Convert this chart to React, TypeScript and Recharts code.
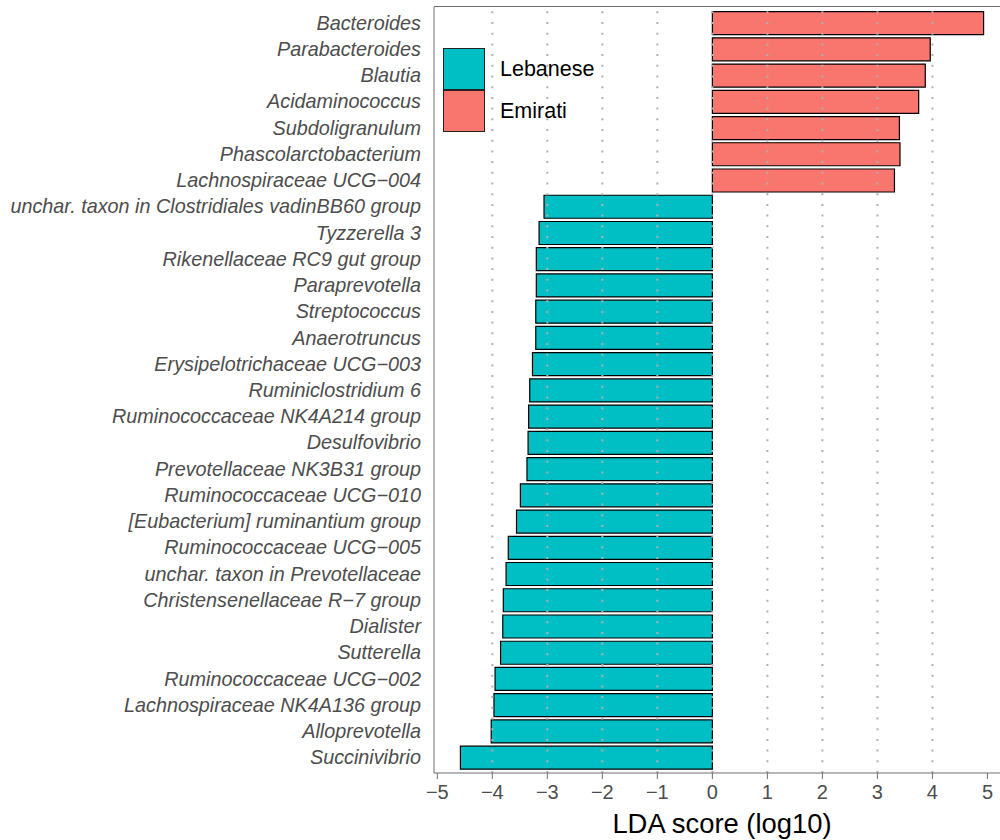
import { BarChart, Bar, XAxis, YAxis, Cell, ReferenceLine, Label } from "recharts";

// taxa ordered top -> bottom as they appear on the plot
const taxa = [
  "Bacteroides",
  "Parabacteroides",
  "Blautia",
  "Acidaminococcus",
  "Subdoligranulum",
  "Phascolarctobacterium",
  "Lachnospiraceae UCG\u2212004",
  "unchar. taxon in Clostridiales vadinBB60 group",
  "Tyzzerella 3",
  "Rikenellaceae RC9 gut group",
  "Paraprevotella",
  "Streptococcus",
  "Anaerotruncus",
  "Erysipelotrichaceae UCG\u2212003",
  "Ruminiclostridium 6",
  "Ruminococcaceae NK4A214 group",
  "Desulfovibrio",
  "Prevotellaceae NK3B31 group",
  "Ruminococcaceae UCG\u2212010",
  "[Eubacterium] ruminantium group",
  "Ruminococcaceae UCG\u2212005",
  "unchar. taxon in Prevotellaceae",
  "Christensenellaceae R\u22127 group",
  "Dialister",
  "Sutterella",
  "Ruminococcaceae UCG\u2212002",
  "Lachnospiraceae NK4A136 group",
  "Alloprevotella",
  "Succinivibrio",
];

// LDA score (log10), negative = enriched in Lebanese, positive = Emirati
const lda = [
  4.93, 3.96, 3.87, 3.75, 3.4, 3.41, 3.31,
  -3.06, -3.15, -3.2, -3.2, -3.21, -3.21, -3.27, -3.32, -3.34, -3.35, -3.37,
  -3.49, -3.56, -3.71, -3.75, -3.8, -3.81, -3.85, -3.95, -3.97, -4.02, -4.58,
];

const xTicks = [-5, -4, -3, -2, -1, 0, 1, 2, 3, 4, 5];
const gridAt = [-4, -3, -2, -1, 0, 1, 2, 3, 4];

const groups = ["Lebanese", "Emirati"];
const groupColors = ["#00BFC4", "#F8766D"];

const data = taxa.map((name, i) => ({ name, value: lda[i] }));

const FONT = "'Liberation Sans', Arial, Helvetica, sans-serif";
const AXIS_GREY = "#6e6e6e";

const fmt = (v: number) => (v < 0 ? "\u2212" + Math.abs(v) : String(v));

export default function App() {
  return (
    <div
      style={{
        position: "absolute",
        left: 0,
        top: 0,
        width: 1000,
        height: 840,
        overflow: "hidden",
        background: "#fff",
        fontFamily: FONT,
      }}
    >
      <BarChart
        width={1010}
        height={840}
        data={data}
        layout="vertical"
        margin={{ top: 7, right: 0, bottom: 0, left: 0 }}
      >
        <XAxis
          type="number"
          domain={[-5.06, 5.41]}
          ticks={xTicks}
          tickFormatter={fmt}
          allowDataOverflow
          height={67}
          stroke={AXIS_GREY}
          tickSize={6}
          tickMargin={6}
          tick={{ fill: "#4d4d4d", fontSize: 20, fontFamily: FONT }}
        >
          <Label
            value="LDA score (log10)"
            position="insideBottom"
            offset={7}
            style={{ fill: "#000", fontSize: 27.4, fontFamily: FONT }}
          />
        </XAxis>
        <YAxis
          type="category"
          dataKey="name"
          width={434}
          padding={{ top: 2.6, bottom: 2.6 }}
          interval={0}
          tickLine={false}
          tickSize={0}
          tickMargin={13}
          stroke={AXIS_GREY}
          tick={{ fill: "#4d4d4d", fontSize: 19.8, fontStyle: "italic", fontFamily: FONT }}
        />
        <Bar dataKey="value" barSize={23} stroke="#000" strokeWidth={1.2} isAnimationActive={false}>
          {data.map((d) => (
            <Cell key={d.name} fill={d.value < 0 ? groupColors[0] : groupColors[1]} />
          ))}
        </Bar>
        {gridAt.map((v) => (
          <ReferenceLine
            key={v}
            x={v}
            stroke="#b0b0b0"
            strokeWidth={2}
            strokeDasharray="2 8.7"
          />
        ))}
      </BarChart>

      {/* top edge of the panel */}
      <div
        style={{
          position: "absolute",
          left: 434,
          top: 6,
          width: 600,
          height: 0,
          borderTop: "1.5px solid " + AXIS_GREY,
          zIndex: 5,
          pointerEvents: "none",
        }}
      />

      {/* legend */}
      <div style={{ position: "absolute", left: 443, top: 48, zIndex: 5 }}>
        {groups.map((g, i) => (
          <div key={g} style={{ display: "flex", alignItems: "center", height: 42 }}>
            <div
              style={{
                width: 40,
                height: 40,
                background: groupColors[i],
                border: "1.2px solid #222",
              }}
            />
            <span style={{ marginLeft: 15, fontSize: 21.5, color: "#000" }}>{g}</span>
          </div>
        ))}
      </div>
    </div>
  );
}
